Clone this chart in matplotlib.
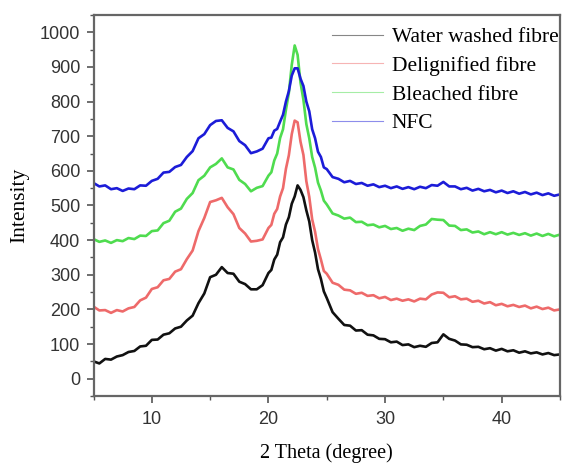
import numpy as np
import matplotlib
matplotlib.use('Agg')
import matplotlib.pyplot as plt

# 2 theta grid: 0.5 deg steps, 0.25 deg across the main cellulose peak
two_theta = np.concatenate([np.arange(5.0, 19.75, 0.5),
                            np.arange(20.0, 24.9, 0.25),
                            np.arange(25.0, 45.01, 0.5)])

water_washed = [50, 44, 57, 55, 64, 68, 77, 80, 93, 95, 112, 113, 127, 131, 145, 150, 168, 182, 218, 246,
                293, 300, 322, 305, 303, 280, 273, 258, 258, 270,
                305, 314, 344, 358, 394, 408, 445, 466, 505, 526, 558, 545, 524, 486, 454, 400, 364, 316, 288, 252,
                233, 192, 173, 155, 153, 139, 140, 127, 125, 115, 114, 105, 107, 97, 99, 91, 95, 92, 103, 105,
                128, 115, 110, 99, 98, 91, 92, 85, 88, 81, 86, 79, 82, 75, 79, 73, 76, 70, 74, 68, 70]

delignified = [208, 197, 198, 190, 198, 194, 203, 207, 226, 234, 259, 264, 284, 288, 309, 316, 345, 370, 426, 464,
               510, 515, 522, 495, 475, 435, 419, 396, 398, 402,
               435, 444, 476, 490, 526, 550, 606, 645, 706, 745, 740, 684, 646, 570, 525, 460, 424, 374, 344, 311,
               303, 277, 271, 257, 255, 245, 248, 239, 241, 232, 236, 227, 231, 225, 229, 223, 231, 229, 243, 249,
               248, 235, 238, 229, 231, 222, 225, 217, 221, 212, 216, 209, 213, 207, 211, 203, 208, 201, 205, 197, 200]

bleached = [403, 395, 399, 392, 400, 397, 406, 403, 413, 412, 426, 428, 449, 456, 482, 491, 519, 536, 573, 586,
            610, 620, 636, 610, 604, 574, 562, 541, 551, 556,
            586, 596, 630, 650, 695, 720, 776, 825, 906, 962, 935, 855, 805, 735, 694, 640, 609, 566, 543, 514,
            503, 477, 471, 462, 465, 452, 453, 443, 445, 437, 441, 432, 435, 427, 433, 429, 441, 445, 461, 459,
            458, 442, 441, 429, 431, 422, 425, 417, 423, 417, 423, 416, 421, 415, 420, 413, 419, 412, 418, 411, 416]

nfc = [565, 555, 558, 547, 550, 542, 549, 547, 558, 557, 571, 577, 595, 597, 611, 617, 640, 657, 694, 706,
       732, 744, 746, 724, 714, 686, 674, 651, 656, 664,
       694, 696, 716, 721, 742, 762, 800, 830, 875, 896, 896, 866, 845, 800, 772, 720, 694, 655, 640, 610,
       605, 582, 577, 567, 571, 562, 565, 557, 561, 553, 557, 550, 555, 548, 553, 547, 554, 550, 559, 557,
       568, 555, 555, 547, 551, 543, 548, 541, 545, 538, 543, 536, 541, 534, 539, 532, 537, 530, 535, 528, 532]

labels = ['Water washed fibre', 'Delignified fibre', 'Bleached fibre', 'NFC']
colors = ['#111111', '#ee6a6a', '#4fdc4f', '#1c1cd8']
series = [water_washed, delignified, bleached, nfc]

fig = plt.figure(figsize=(5.62, 4.65), dpi=100)
ax = fig.add_axes([0.1664, 0.1484, 0.83, 0.8194])

for s, c, lab in zip(series, colors, labels):
    ax.plot(two_theta, s, color=c, lw=1.9, label=lab)

ax.set_xlim(5, 45)
ax.set_ylim(-50, 1050)
ax.set_xticks([10, 20, 30, 40])
ax.set_xticks([5, 15, 25, 35, 45], minor=True)
ax.set_yticks(np.arange(0, 1001, 100))
ax.set_yticks(np.arange(-50, 1051, 50), minor=True)
ax.tick_params(which='major', direction='out', length=5, width=1.2, color='#555555',
               labelsize=13, labelcolor='#333333')
ax.tick_params(which='minor', direction='out', length=3, width=1.0, color='#555555')
ax.tick_params(axis='x', which='major', pad=5.5)
ax.tick_params(axis='y', which='major', pad=4.5)
for lbl in ax.get_xticklabels() + ax.get_yticklabels():
    lbl.set_family('Liberation Sans')
for sp in ax.spines.values():
    sp.set_color('#666666')
    sp.set_linewidth(1.6)

ax.set_xlabel('2 Theta (degree)', family='Liberation Serif', fontsize=14.5, labelpad=11)
ax.set_ylabel('Intensity', family='Liberation Serif', fontsize=15.5, labelpad=8)

leg = ax.legend(loc='upper right', bbox_to_anchor=(0.997, 0.968), frameon=False,
                handlelength=2.4, handletextpad=0.4, labelspacing=0.4,
                borderpad=0, borderaxespad=0,
                prop={'family': 'Liberation Serif', 'size': 15.5})
for h in leg.get_lines():
    h.set_linewidth(0.8)
    h.set_alpha(0.5)

fig.savefig('out.png', dpi=100)
